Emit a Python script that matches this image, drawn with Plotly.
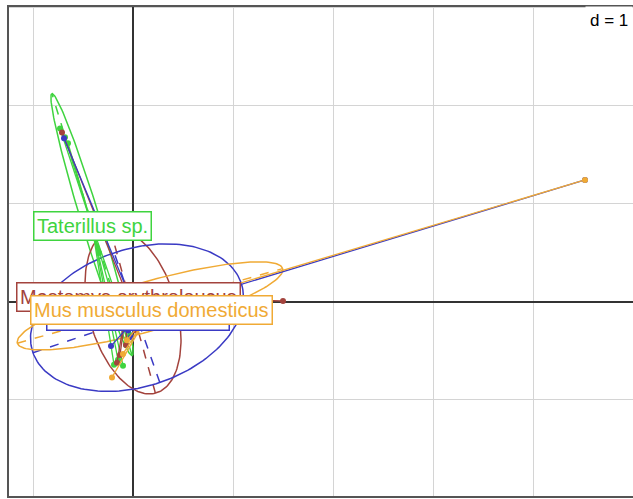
import numpy as np
import plotly.graph_objects as go

# ---- data (factorial plane coordinates, d = 1 grid) ----
groups = ["Taterillus sp.", "Mastomys erythroleucus", "Arvicanthis niloticus", "Mus musculus domesticus"]
colors = ["#3fd43f", "#a3433d", "#3a3ac4", "#f0aa35"]

# class centroids (label positions)
cent_x = [-0.41, -0.05, 0.05, 0.18]
cent_y = [0.78, 0.05, -0.14, -0.08]

# individual points per class
pts_x = [
    [-0.73, -0.68, -0.65, -0.34, -0.15, -0.10, -0.07, -0.19, -0.03],
    [1.50, -0.71, -0.13, -0.07, 0.02, -0.16],
    [4.52, -0.22, -0.05, -0.69, -0.02],
    [4.52, -0.21, -0.10, -0.03, -0.06],
]
pts_y = [
    [1.77, 1.68, 1.62, 0.50, -0.59, -0.65, -0.44, -0.64, -0.34],
    [0.01, 1.73, -0.54, -0.44, -0.29, -0.62],
    [1.245, -0.45, -0.29, 1.67, -0.36],
    [1.245, -0.77, -0.53, 0.12, -0.39],
]

# inertia ellipses (centre, semi-axes, orientation in degrees)
ell_cx = [-0.41, 0.00, 0.04, 0.17]
ell_cy = [0.79, -0.10, -0.16, -0.04]
ell_a = [1.395, 0.86, 1.10, 1.38]
ell_b = [0.095, 0.44, 0.70, 0.25]
ell_angle = [106.7, 105.1, 19.0, 16.0]

x_range = [-1.25, 5.0]
y_range = [-1.99, 3.02]

fig = go.Figure()

t = np.linspace(0, 2 * np.pi, 181)
for i, g in enumerate(groups):
    c = colors[i]
    th = np.deg2rad(ell_angle[i])
    a, b = ell_a[i], ell_b[i]
    cx, cy = ell_cx[i], ell_cy[i]
    ex = cx + a * np.cos(t) * np.cos(th) - b * np.sin(t) * np.sin(th)
    ey = cy + a * np.cos(t) * np.sin(th) + b * np.sin(t) * np.cos(th)
    fig.add_trace(go.Scatter(x=ex, y=ey, mode="lines", line=dict(color=c, width=1.5),
                             hoverinfo="skip", showlegend=False))
    # ellipse axes (dashed)
    ax_x = [cx - a * np.cos(th), cx + a * np.cos(th), None,
            cx + b * np.sin(th), cx - b * np.sin(th)]
    ax_y = [cy - a * np.sin(th), cy + a * np.sin(th), None,
            cy - b * np.cos(th), cy + b * np.cos(th)]
    fig.add_trace(go.Scatter(x=ax_x, y=ax_y, mode="lines",
                             line=dict(color=c, width=1.5, dash="dash"),
                             hoverinfo="skip", showlegend=False))

for i, g in enumerate(groups):
    c = colors[i]
    sx, sy = [], []
    for px, py in zip(pts_x[i], pts_y[i]):
        sx += [cent_x[i], px, None]
        sy += [cent_y[i], py, None]
    fig.add_trace(go.Scatter(x=sx, y=sy, mode="lines", line=dict(color=c, width=1.3),
                             hoverinfo="skip", showlegend=False))
    fig.add_trace(go.Scatter(x=pts_x[i], y=pts_y[i], mode="markers",
                             marker=dict(color=c, size=6), name=g, showlegend=False))

for i, g in enumerate(groups):
    fig.add_annotation(x=cent_x[i], y=cent_y[i], text=g, showarrow=False,
                       font=dict(family="Liberation Sans, Arial", size=20, color=colors[i]),
                       bgcolor="white", bordercolor=colors[i], borderwidth=1.5, borderpad=2.5)

fig.add_annotation(x=1, y=1, xref="paper", yref="paper", xanchor="right", yanchor="top",
                   text="d = 1", showarrow=False, bgcolor="white", borderpad=4,
                   font=dict(family="Liberation Sans, Arial", size=17, color="black"))

axis_common = dict(showticklabels=False, ticks="", showgrid=True, gridcolor="#d4d4d4",
                   gridwidth=1, dtick=1, tick0=0, zeroline=True, zerolinecolor="#333333",
                   zerolinewidth=1.5, showline=False, fixedrange=True)
fig.update_xaxes(range=x_range, **axis_common)
fig.update_yaxes(range=y_range, **axis_common)

fig.add_shape(type="rect", xref="paper", yref="paper", x0=0, y0=0, x1=1.01, y1=1,
              line=dict(color="#555555", width=2), layer="above")

fig.update_layout(width=633, height=499, margin=dict(l=8, r=0, t=6, b=2),
                  plot_bgcolor="white", paper_bgcolor="white", showlegend=False)

fig.write_html("out.html")
